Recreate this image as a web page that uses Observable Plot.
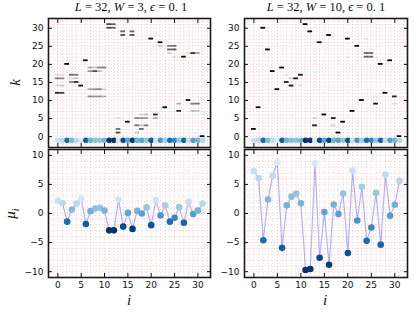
<!DOCTYPE html>
<html><head><meta charset="utf-8">
<script src="https://cdn.jsdelivr.net/npm/d3@7"></script>
<script src="https://cdn.jsdelivr.net/npm/@observablehq/plot@0.6"></script>
<style>
body{margin:0;background:#fff;}
#fig{position:relative;width:415px;height:314px;overflow:hidden;background:#fff;}
.p{position:absolute;}
.lbl{position:absolute;font-family:"Liberation Serif","DejaVu Serif",serif;font-style:italic;white-space:nowrap;color:#111;}
.ttl{position:absolute;font-family:"Liberation Serif","DejaVu Serif",serif;font-size:12.5px;white-space:nowrap;color:#111;transform:translateX(-50%);}
.ttl i{font-style:italic;}
</style></head>
<body><div id="fig"></div>
<script>
// ---- data ----
const sites = d3.range(0, 32);
const xTicks = [0, 5, 10, 15, 20, 25, 30];
const kTicks = [0, 5, 10, 15, 20, 25, 30];
const muTicks = [-10, -5, 0, 5, 10];

// chemical potentials mu_i
const muW3 = [2.2, 1.8, -1.4, 0.7, 1.7, 2.6, -1.8, 0.4, 0.85, 1.0, 0.5, -2.9, -2.9, 2.4, -2.25, 0.1,
              -2.65, 0.45, 0.0, 1.05, -2.0, 2.3, -0.35, 1.4, -1.4, -0.75, 1.1, -1.6, 2.0, -0.1, 0.5, 1.7];
const muW10 = [7.3, 6.05, -4.6, 2.4, 6.5, 8.8, -5.9, 1.4, 2.9, 3.45, 1.75, -9.7, -9.55, 8.65, -7.6, 0.25,
               -8.8, 1.55, -0.1, 3.45, -6.8, 7.4, -1.2, 4.6, -4.7, -2.4, 3.55, -5.35, 6.7, -0.4, 1.5, 5.6];

// eigenstate weights: [site i, state k, weight]
const barsW3 = [
 [0,12,0.85],[0,16,0.5],[0,14,0.15],[0,17,0.12],
 [1,12,0.75],[1,16,0.45],[1,14,0.2],[1,17,0.1],
 [2,20,1.0],
 [3,17,0.6],[3,15,0.45],[3,16,0.15],
 [4,17,0.5],[4,15,0.8],[4,16,0.2],
 [5,14,0.95],
 [6,21,0.95],
 [7,19,0.35],[7,18,0.4],[7,13,0.35],[7,11,0.45],
 [8,18,0.7],[8,19,0.2],[8,13,0.4],[8,11,0.4],
 [9,19,0.45],[9,18,0.25],[9,13,0.45],[9,11,0.4],
 [10,19,0.5],[10,11,0.3],[10,13,0.15],
 [11,31,0.7],[11,30,0.7],
 [12,31,0.6],[12,30,0.6],
 [13,2,0.55],[13,1,0.7],[13,5,0.1],
 [14,29,0.6],[14,28,0.7],
 [15,4,0.95],
 [16,29,0.6],[16,28,0.7],
 [17,5,0.45],[17,3,0.55],[17,1,0.2],
 [18,5,0.4],[18,2,0.6],[18,3,0.2],[18,6,0.15],
 [19,6,0.2],[19,5,0.35],[19,3,0.5],
 [20,27,0.95],
 [21,6,0.85],[21,5,0.3],
 [22,26,0.95],[22,25,0.2],
 [23,8,0.95],
 [24,25,0.5],[24,24,0.6],[24,23,0.15],
 [25,25,0.55],[25,24,0.65],[25,22,0.1],
 [26,9,0.3],[26,7,0.85],
 [27,22,0.95],
 [28,10,0.95],[28,23,0.1],
 [29,23,0.8],[29,9,0.5],[29,7,0.25],
 [30,23,0.35],[30,9,0.55],[30,7,0.2],
 [31,0,0.95]
];
const barsW10 = [
 [0,2,1],[1,8,1],[2,30,1],[3,24,1],[4,18,1],[5,13,1],[6,19,1],
 [7,15,0.9],[7,17,0.1],[8,14,0.9],[8,16,0.15],[9,16,0.9],[10,17,0.9],[10,14,0.1],
 [11,31,1],[12,29,1],[13,3,0.9],[13,5,0.15],[14,26,1],[15,6,1],[16,28,1],
 [17,5,0.9],[17,3,0.15],[18,1,1],[19,4,1],[20,27,1],[20,22,0.05],[21,7,1],
 [22,25,1],[23,10,1],[24,23,0.6],[24,22,0.6],[24,27,0.08],[25,23,0.6],[25,22,0.6],
 [26,9,0.95],[26,11,0.1],[27,20,1],[28,12,1],[29,21,1],[30,11,0.85],[30,9,0.12],[31,0,1]
];

// ---- drawing ----
const fig = document.getElementById("fig");
const xDom = [-2, 32.7];
const gridStyle = {stroke: "#f08080", strokeOpacity: 0.55, strokeWidth: 0.8, strokeDasharray: "0.8,2.2"};
const fontStyle = {fontFamily: "DejaVu Sans", fontSize: "9px", color: "#111", background: "transparent", overflow: "visible"};

function colorFor(mu) {
  const [lo, hi] = d3.extent(mu);
  return m => d3.interpolateBlues(0.15 + 0.85 * (hi - m) / (hi - lo));
}

function frameAxes(yt, showX) {
  const m = [
    Plot.frame({stroke: "#1a1a1a", strokeWidth: 1.6}),
    Plot.axisX(xTicks, {anchor: "bottom", tickSize: -4, tickFormat: () => "", label: null}),
    Plot.axisX(xTicks, {anchor: "top", tickSize: -4, tickFormat: () => "", label: null}),
    Plot.axisY(yt, {anchor: "left", tickSize: -4, tickFormat: () => "", label: null}),
    Plot.axisY(yt, {anchor: "right", tickSize: -4, tickFormat: () => "", label: null}),
    Plot.axisY(yt, {anchor: "left", tickSize: 0, tickPadding: 5, label: null})
  ];
  if (showX) m.push(Plot.axisX(xTicks, {anchor: "bottom", tickSize: 0, tickPadding: 4, label: null}));
  return m;
}

function topPanel(bars, mu, left, ml, mr) {
  const col = colorFor(mu);
  const data = bars.map(([i, k, w]) => ({i, k, w}));
  const pts = sites.map(i => ({i, m: mu[i]}));
  const w = ml + (left ? 162 : 163) + mr;
  const svg = Plot.plot({
    width: w, height: 148, marginLeft: ml, marginRight: mr, marginTop: 18, marginBottom: 1,
    style: fontStyle,
    x: {domain: xDom}, y: {domain: [-3, 32.7]},
    marks: [
      Plot.gridX(d3.range(-2, 33), gridStyle),
      Plot.gridY(d3.range(-3, 33), gridStyle),
      Plot.rect(data, {x1: d => d.i - 0.5, x2: d => d.i + 0.5, y1: d => d.k - 0.25, y2: d => d.k + 0.25,
                       fill: "#000", fillOpacity: d => d.w}),
      Plot.dot(pts, {x: "i", y: () => -1, r: 2.8, fill: d => col(d.m), stroke: "none"}),
      ...frameAxes(kTicks, false)
    ]
  });
  return svg;
}

function botPanel(mu, left, ml, mr) {
  const col = colorFor(mu);
  const pts = sites.map(i => ({i, m: mu[i]}));
  const w = ml + (left ? 162 : 163) + mr;
  return Plot.plot({
    width: w, height: 166, marginLeft: ml, marginRight: mr, marginTop: 1, marginBottom: 37,
    style: fontStyle,
    x: {domain: xDom}, y: {domain: [-11, 11]},
    marks: [
      Plot.gridX(d3.range(-2, 33), gridStyle),
      Plot.gridY(d3.range(-11, 12), gridStyle),
      Plot.line(pts, {x: "i", y: "m", stroke: "#0000ff", strokeOpacity: 0.3, strokeWidth: 1.2}),
      Plot.dot(pts, {x: "i", y: "m", r: 3.3, fill: d => col(d.m), stroke: "none"}),
      ...frameAxes(muTicks, true)
    ]
  });
}

function place(node, x, y) {
  const d = document.createElement("div");
  d.className = "p"; d.style.left = x + "px"; d.style.top = y + "px";
  d.appendChild(node); fig.appendChild(d);
}

place(topPanel(barsW3, muW3, true, 48, 2), 0, 0);
place(botPanel(muW3, true, 48, 2), 0, 148);
place(topPanel(barsW10, muW10, false, 32, 8), 212, 0);
place(botPanel(muW10, false, 32, 8), 212, 148);

function addHTML(cls, html, css) {
  const d = document.createElement("div");
  d.className = cls; d.innerHTML = html; Object.assign(d.style, css); fig.appendChild(d);
}
addHTML("ttl", "<i>L</i> = 32, <i>W</i> = 3, <i>ϵ</i> = 0. 1", {left: "131px", top: "0px"});
addHTML("ttl", "<i>L</i> = 32, <i>W</i> = 10, <i>ϵ</i> = 0. 1", {left: "326px", top: "0px"});
addHTML("lbl", "k", {left: "12px", top: "74px", fontSize: "15px", transform: "rotate(-90deg)"});
addHTML("lbl", "μ<sub style='font-size:10px'>i</sub>", {left: "6px", top: "204px", fontSize: "15px", transform: "rotate(-90deg)"});
addHTML("lbl", "i", {left: "127px", top: "292px", fontSize: "15px"});
addHTML("lbl", "i", {left: "323px", top: "292px", fontSize: "15px"});
</script></body></html>
